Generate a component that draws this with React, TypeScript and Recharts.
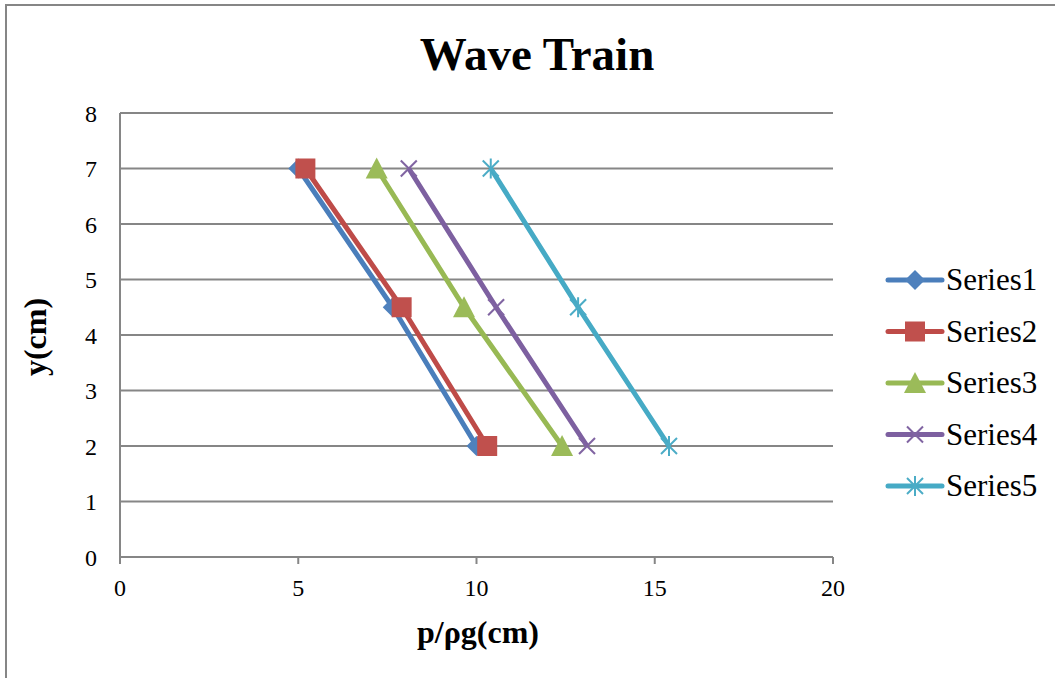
import { CartesianGrid, Line, LineChart, XAxis, YAxis } from "recharts";

// depth levels (cm) shared by every series, top to bottom
const Y_LEVELS = [7, 4.5, 2];

// p/ρg (cm), one value per depth level
const SERIES1 = [5.0, 7.65, 10.0];
const SERIES2 = [5.2, 7.9, 10.3];
const SERIES3 = [7.2, 9.65, 12.4];
const SERIES4 = [8.1, 10.55, 13.1];
const SERIES5 = [10.4, 12.85, 15.4];

const SERIES_NAMES = ["Series1", "Series2", "Series3", "Series4", "Series5"];
const X_TICKS = [0, 5, 10, 15, 20];
const Y_TICKS = [0, 1, 2, 3, 4, 5, 6, 7, 8];

type Shape = "diamond" | "square" | "triangle" | "cross" | "star";

const STYLES: { line: string; mark: string; shape: Shape }[] = [
  { line: "#4A7EBB", mark: "#4F81BD", shape: "diamond" },
  { line: "#BE4B48", mark: "#C0504D", shape: "square" },
  { line: "#98B954", mark: "#9BBB59", shape: "triangle" },
  { line: "#7D60A0", mark: "#8064A2", shape: "cross" },
  { line: "#46AAC5", mark: "#4BACC6", shape: "star" },
];

const SERIES = [SERIES1, SERIES2, SERIES3, SERIES4, SERIES5].map((xs) =>
  xs.map((x, i) => ({ x, y: Y_LEVELS[i] }))
);

const FONT = '"Liberation Serif", "Times New Roman", serif';
const GRID = "#868686";

function Marker({ shape, cx, cy, color }: { shape: Shape; cx: number; cy: number; color: string }) {
  switch (shape) {
    case "diamond":
      return (
        <polygon
          points={`${cx},${cy - 10} ${cx + 10},${cy} ${cx},${cy + 10} ${cx - 10},${cy}`}
          fill={color}
        />
      );
    case "square":
      return <rect x={cx - 10} y={cy - 10} width={20} height={20} fill={color} />;
    case "triangle":
      return (
        <polygon
          points={`${cx},${cy - 11} ${cx + 11},${cy + 10} ${cx - 11},${cy + 10}`}
          fill={color}
        />
      );
    case "cross":
      return (
        <g stroke={color} strokeWidth={2}>
          <line x1={cx - 8} y1={cy - 8} x2={cx + 8} y2={cy + 8} />
          <line x1={cx - 8} y1={cy + 8} x2={cx + 8} y2={cy - 8} />
        </g>
      );
    default:
      return (
        <g stroke={color} strokeWidth={2}>
          <line x1={cx - 8} y1={cy - 8} x2={cx + 8} y2={cy + 8} />
          <line x1={cx - 8} y1={cy + 8} x2={cx + 8} y2={cy - 8} />
          <line x1={cx} y1={cy - 10} x2={cx} y2={cy + 10} />
        </g>
      );
  }
}

const TICK = { fontSize: 24, fontFamily: FONT, fill: "#000" };

export default function App() {
  return (
    <div
      style={{
        position: "absolute",
        left: 0,
        top: 0,
        width: 1055,
        height: 678,
        overflow: "hidden",
        background: "#fff",
        fontFamily: FONT,
      }}
    >
      <div
        style={{
          position: "absolute",
          left: 5,
          top: 4,
          width: 1200,
          height: 800,
          border: `2px solid ${GRID}`,
        }}
      />
      <LineChart
        width={1055}
        height={678}
        margin={{ top: 113, right: 222, bottom: 61, left: 60 }}
        style={{ position: "absolute", left: 0, top: 0 }}
      >
        <CartesianGrid vertical={false} stroke={GRID} strokeWidth={2} />
        <XAxis
          type="number"
          dataKey="x"
          domain={[0, 20]}
          ticks={X_TICKS}
          height={60}
          tick={TICK}
          tickSize={7}
          tickMargin={15}
          axisLine={{ stroke: GRID, strokeWidth: 2 }}
          tickLine={{ stroke: GRID, strokeWidth: 2 }}
          allowDuplicatedCategory={false}
        />
        <YAxis
          type="number"
          dataKey="y"
          domain={[0, 8]}
          ticks={Y_TICKS}
          width={60}
          tick={TICK}
          tickSize={0}
          tickMargin={23}
          tickLine={false}
          axisLine={{ stroke: GRID, strokeWidth: 2 }}
        />
        {SERIES.map((data, i) => (
          <Line
            key={SERIES_NAMES[i]}
            data={data}
            dataKey="y"
            name={SERIES_NAMES[i]}
            type="linear"
            stroke={STYLES[i].line}
            strokeWidth={5}
            isAnimationActive={false}
            activeDot={false}
            dot={(p: any) => (
              <Marker
                key={`${i}-${p.index}`}
                shape={STYLES[i].shape}
                cx={p.cx}
                cy={p.cy}
                color={STYLES[i].mark}
              />
            )}
          />
        ))}
      </LineChart>
      <svg
        width={1055}
        height={678}
        style={{ position: "absolute", left: 0, top: 0, pointerEvents: "none" }}
      >
        <text x={537} y={70} textAnchor="middle" fontSize={47} fontWeight="bold" fontFamily={FONT}>
          Wave Train
        </text>
        <text x={478} y={643} textAnchor="middle" fontSize={32} fontWeight="bold" fontFamily={FONT}>
          p/ρg(cm)
        </text>
        <text
          x={0}
          y={0}
          transform="translate(46 337) rotate(-90)"
          textAnchor="middle"
          fontSize={32}
          fontWeight="bold"
          fontFamily={FONT}
        >
          y(cm)
        </text>
        {SERIES_NAMES.map((name, i) => {
          const cy = 280 + i * 51.5;
          return (
            <g key={name}>
              <line
                x1={888}
                y1={cy}
                x2={942}
                y2={cy}
                stroke={STYLES[i].line}
                strokeWidth={5}
                strokeLinecap="round"
              />
              <Marker shape={STYLES[i].shape} cx={915} cy={cy} color={STYLES[i].mark} />
              <text x={946} y={cy + 10} fontSize={31} fontFamily={FONT}>
                {name}
              </text>
            </g>
          );
        })}
      </svg>
    </div>
  );
}
